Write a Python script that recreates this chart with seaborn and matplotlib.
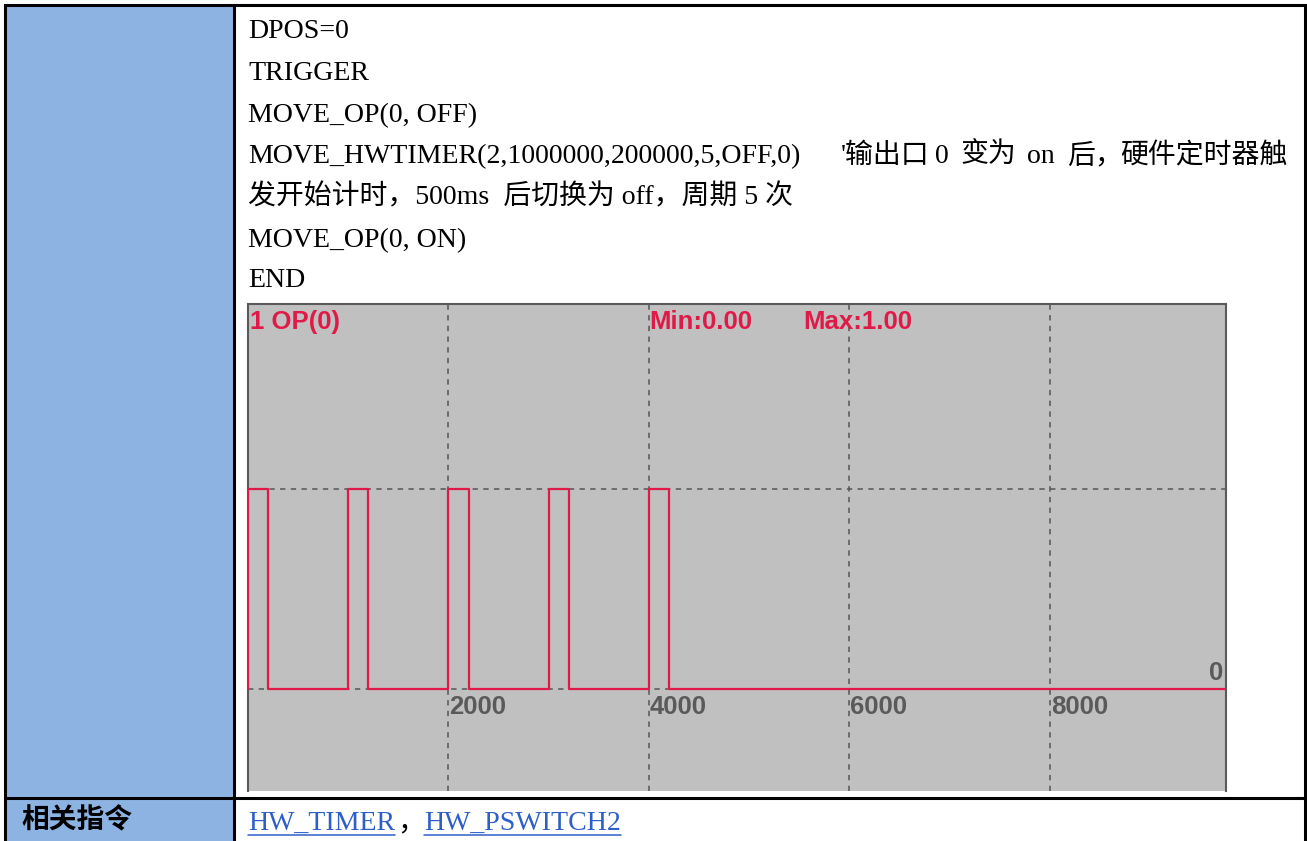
import matplotlib
matplotlib.use("Agg")
import matplotlib.pyplot as plt
from matplotlib.patches import Rectangle
import seaborn as sns
import pandas as pd

# ---------------- data ----------------
edge_times = [0, 0, 200, 1000, 1200, 2000, 2200, 3000, 3200, 4000, 4200, 9800]
levels = [0, 1, 0, 1, 0, 1, 0, 1, 0, 1, 0, 0]
grid_x = [2000, 4000, 6000, 8000]
tick_labels = ["2000", "4000", "6000", "8000"]
grid_y = [0, 1]
channel_label = "1 OP(0)"
min_label = "Min:0.00"
max_label = "Max:1.00"
zero_label = "0"

code_lines = [
    "DPOS=0",
    "TRIGGER",
    "MOVE_OP(0, OFF)",
    None,
    "发开始计时，500ms  后切换为 off，周期 5 次",
    "MOVE_OP(0, ON)",
    "END",
]
line4_runs = [
    "MOVE_HWTIMER(2,1000000,200000,5,OFF,0)",
    "'输出口", "0", "变为", "on", "后，", "硬件定时器触",
]
row_title = "相关指令"
links = ["HW_TIMER", "HW_PSWITCH2"]

# ---------------- style ----------------
W, H = 1307, 841
sns.set_theme(style="white")
plt.rcParams["font.family"] = ["Liberation Serif", "Noto Sans CJK SC", "DejaVu Sans"]

RED = "#E01A48"
GRID = "#555555"
BG = "#C0C0C0"
BLUE_CELL = "#8DB3E2"
LINK = "#2E5FC9"
MIXED = ["Liberation Serif", "Noto Sans CJK SC", "DejaVu Sans"]

fig = plt.figure(figsize=(W / 100, H / 100), dpi=100)
fig.patch.set_facecolor("white")

# overlay axes in pixel coordinates for the table frame and text
ov = fig.add_axes([0, 0, 1, 1], zorder=0)
ov.set_xlim(0, W)
ov.set_ylim(H, 0)
ov.axis("off")

ov.add_patch(Rectangle((5, 5), 229, H, facecolor=BLUE_CELL, edgecolor="none", zorder=0))
lw_tab = 2.2
ov.plot([5, 1305], [5, 5], color="black", lw=lw_tab, solid_capstyle="projecting")
ov.plot([5, 5], [5, H + 5], color="black", lw=lw_tab)
ov.plot([234, 234], [5, H + 5], color="black", lw=lw_tab)
ov.plot([1305, 1305], [5, H + 5], color="black", lw=lw_tab)
ov.plot([5, 1305], [798, 798], color="black", lw=lw_tab)

FS = 20.1
baselines = [38, 80, 122, 163, 204, 247, 287]
for i, (txt, yb) in enumerate(zip(code_lines, baselines)):
    if txt is None:
        continue
    ov.text(248, yb, txt, fontsize=FS, family=MIXED, va="baseline", ha="left", color="black")

x_runs = [248, 841, 935, 960, 1027, 1067, None]
for txt, xr in zip(line4_runs, x_runs):
    if xr is None:
        ov.text(1287, 163, txt, fontsize=FS, family=MIXED, va="baseline", ha="right", color="black")
    else:
        ov.text(xr, 163, txt, fontsize=FS, family=MIXED, va="baseline", ha="left", color="black")

ov.text(21, 820, row_title, fontsize=20, family=["Noto Sans CJK SC", "DejaVu Sans"],
        va="center", ha="left", color="black", weight="bold")

t1 = ov.text(248, 830, links[0], fontsize=FS, family=MIXED, va="baseline", ha="left", color=LINK)
tc = ov.text(397, 830, "，", fontsize=FS, family=MIXED, va="baseline", ha="left", color="black")
t2 = ov.text(424, 830, links[1], fontsize=FS, family=MIXED, va="baseline", ha="left", color=LINK)

fig.canvas.draw()
renderer = fig.canvas.get_renderer()
inv = ov.transData.inverted()
for t in (t1, t2):
    bb = t.get_window_extent(renderer)
    (x0, _), (x1, _) = inv.transform([(bb.x0, bb.y0), (bb.x1, bb.y1)])
    ov.plot([x0, x1], [835, 835], color=LINK, lw=1.1)

# ---------------- scope chart ----------------
L, R, T, B = 248, 1226, 304, 791
ax = fig.add_axes([L / W, (H - B) / H, (R - L) / W, (B - T) / H], zorder=2)
ax.set_facecolor(BG)

df = pd.DataFrame({"t": edge_times, "v": levels})
sns.lineplot(data=df, x="t", y="v", ax=ax, estimator=None, sort=False,
             drawstyle="steps-post", color=RED, linewidth=1.6, zorder=3)

x_max = (R - L) / 200.5 * 2000
ax.set_xlim(0, x_max)
ax.set_ylim(-(B - 689) / 200, 1 + (489 - T) / 200)

ax.set_xticks(grid_x)
ax.set_yticks(grid_y)
ax.set_xticklabels([])
ax.set_yticklabels([])
ax.tick_params(length=0)
ax.set_xlabel("")
ax.set_ylabel("")
ax.grid(True, color=GRID, linestyle=(0, (3.5, 3.5)), linewidth=1.1)
ax.set_axisbelow(True)

for side in ("top", "left", "right"):
    ax.spines[side].set_visible(True)
    ax.spines[side].set_color("#5a5a5a")
    ax.spines[side].set_linewidth(1.5)
ax.spines["bottom"].set_visible(False)

SC = ["Liberation Sans", "DejaVu Sans"]
ax.text(15, 1.80, channel_label, fontsize=18.5, family=SC, weight="bold", color=RED,
        va="baseline", ha="left")
ax.text(4000, 1.80, min_label, fontsize=18.5, family=SC, weight="bold", color=RED,
        va="baseline", ha="left")
ax.text(5540, 1.80, max_label, fontsize=18.5, family=SC, weight="bold", color=RED,
        va="baseline", ha="left")
for gx, lab in zip(grid_x, tick_labels):
    ax.text(gx + 8, -0.125, lab, fontsize=18.5, family=SC, weight="bold", color="#5a5a5a",
            va="baseline", ha="left")
ax.text(x_max - 30, 0.045, zero_label, fontsize=18.5, family=SC, weight="bold", color="#5a5a5a",
        va="baseline", ha="right")

fig.savefig("out.png", dpi=100, facecolor="white")
